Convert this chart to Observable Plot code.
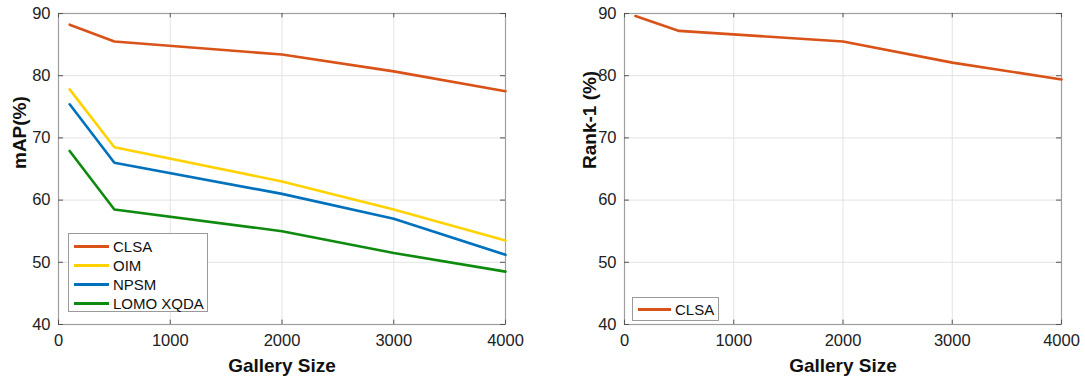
<!DOCTYPE html>
<html>
<head>
<meta charset="utf-8">
<script src="https://cdn.jsdelivr.net/npm/d3@7"></script>
<script src="https://cdn.jsdelivr.net/npm/@observablehq/plot@0.6"></script>
<style>
  html, body { margin: 0; padding: 0; background: #fff; }
  body { width: 1085px; height: 381px; position: relative; overflow: hidden; font-family: "Liberation Sans", Arial, Helvetica, sans-serif; }
  .panel { position: absolute; top: 0; }
  .legend { position: absolute; background: #fff; border: 1px solid #9a9a9a; box-sizing: border-box; font-size: 15px; color: #111; }
  .legend .row { position: absolute; left: 0; height: 19px; display: flex; align-items: center; white-space: nowrap; }
  .legend .sw { display: inline-block; height: 3px; margin-left: 5px; margin-right: 4px; }
</style>
</head>
<body>
<div id="left" class="panel" style="left:0px"></div>
<div id="right" class="panel" style="left:545px"></div>
<script>
// ---- data ----
const gallerySizes = [100, 500, 2000, 3000, 4000];
const seriesNames = ["CLSA", "OIM", "NPSM", "LOMO XQDA"];
const seriesColors = ["#D95319", "#FFD200", "#0072BD", "#0E8A0E"];
const mapCLSA = [88.2, 85.5, 83.4, 80.7, 77.5];
const mapOIM = [77.8, 68.5, 63.0, 58.5, 53.5];
const mapNPSM = [75.4, 66.0, 61.0, 57.0, 51.2];
const mapLOMO = [67.9, 58.5, 55.0, 51.5, 48.5];
const rank1CLSA = [89.6, 87.2, 85.5, 82.1, 79.4];
const xTicks = [0, 1000, 2000, 3000, 4000];
const yTicks = [40, 50, 60, 70, 80, 90];
const xLabel = "Gallery Size";
const yLabelLeft = "mAP(%)";
const yLabelRight = "Rank-1 (%)";

const mapSeries = [mapCLSA, mapOIM, mapNPSM, mapLOMO];
const mapRows = [];
seriesNames.forEach((name, i) => gallerySizes.forEach((g, j) => mapRows.push({series: name, x: g, y: mapSeries[i][j]})));
const rankRows = gallerySizes.map((g, j) => ({series: "CLSA", x: g, y: rank1CLSA[j]}));

function panel(rows, names, colors, yLabel, m, labelDx) {
  const tx = 45, ty = 0.7;
  return Plot.plot({
    width: 540, height: 381,
    marginLeft: m.left, marginRight: m.right, marginTop: 13, marginBottom: 57,
    style: {fontFamily: '"Liberation Sans", Arial, Helvetica, sans-serif', fontSize: "16.5px", color: "#222", background: "#fff", overflow: "visible"},
    x: {domain: [0, 4000], ticks: xTicks},
    y: {domain: [40, 90], ticks: yTicks},
    color: {domain: names, range: colors},
    marks: [
      Plot.ruleX(xTicks, {stroke: "#e3e3e3", strokeWidth: 1}),
      Plot.ruleY(yTicks, {stroke: "#e3e3e3", strokeWidth: 1}),
      Plot.frame({stroke: "#9e9e9e", strokeWidth: 1.2}),
      Plot.ruleY(yTicks, {x1: 0, x2: tx, stroke: "#555"}),
      Plot.ruleY(yTicks, {x1: 4000 - tx, x2: 4000, stroke: "#555"}),
      Plot.ruleX(xTicks, {y1: 40, y2: 40 + ty, stroke: "#555"}),
      Plot.ruleX(xTicks, {y1: 90 - ty, y2: 90, stroke: "#555"}),
      Plot.axisX({ticks: xTicks, tickFormat: d3.format("d"), tickSize: 0, tickPadding: 10, label: null, fontSize: 16.5}),
      Plot.axisY({ticks: yTicks, tickFormat: d3.format("d"), tickSize: 0, tickPadding: 8, label: null, fontSize: 16.5}),
      Plot.line(rows, {x: "x", y: "y", z: "series", stroke: "series", strokeWidth: 2.6, strokeLinejoin: "round"}),
      Plot.text([xLabel], {frameAnchor: "bottom", dy: 47, fontSize: 19, fontWeight: "bold", fill: "#111"}),
      Plot.text([yLabel], {frameAnchor: "left", dx: labelDx, rotate: -90, fontSize: 19, fontWeight: "bold", fill: "#111"})
    ]
  });
}

const left = document.getElementById("left");
left.appendChild(panel(mapRows, seriesNames, seriesColors, yLabelLeft, {left: 58, right: 35}, -39));
const right = document.getElementById("right");
right.appendChild(panel(rankRows, ["CLSA"], [seriesColors[0]], yLabelRight, {left: 79, right: 24}, -35));

function legend(container, names, colors, box, swatchW) {
  const lg = document.createElement("div");
  lg.className = "legend";
  Object.assign(lg.style, {left: box.left + "px", top: box.top + "px", width: box.width + "px", height: box.height + "px"});
  names.forEach((n, i) => {
    const row = document.createElement("div");
    row.className = "row";
    row.style.top = (box.pad + i * box.step) + "px";
    const sw = document.createElement("span");
    sw.className = "sw";
    sw.style.width = swatchW + "px";
    sw.style.background = colors[i];
    const t = document.createElement("span");
    t.textContent = n;
    row.appendChild(sw); row.appendChild(t);
    lg.appendChild(row);
  });
  container.appendChild(lg);
}
legend(left, seriesNames, seriesColors, {left: 68, top: 233, width: 140, height: 79, pad: 2.5, step: 19}, 35);
legend(right, ["CLSA"], [seriesColors[0]], {left: 87, top: 297, width: 87, height: 24, pad: 1.5, step: 19}, 33);
</script>
</body>
</html>
